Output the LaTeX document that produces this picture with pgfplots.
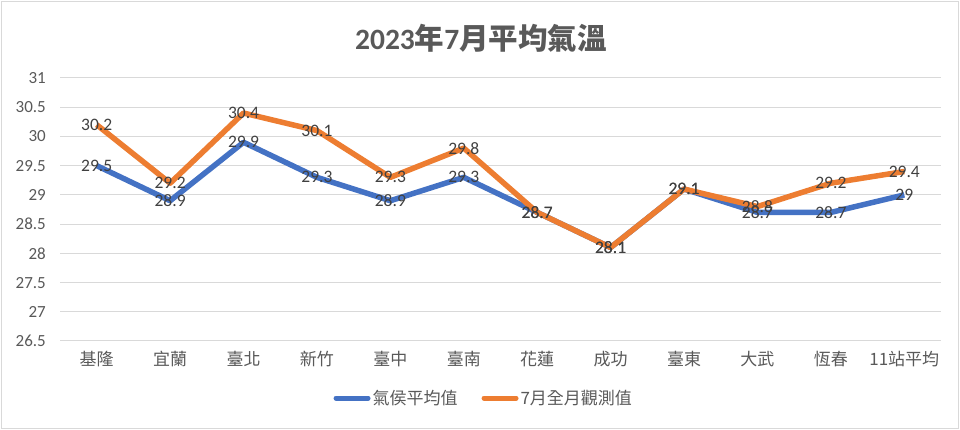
\documentclass[border=0pt]{standalone}
\usepackage{fontspec}
\setmainfont{Carlito}
\newfontfamily\cjk{Noto Sans CJK TC}
\usepackage{pgfplots}
\pgfplotsset{compat=1.18}
\definecolor{cblue}{HTML}{4472C4}
\definecolor{corange}{HTML}{ED7D31}
\definecolor{tgray}{HTML}{595959}
\definecolor{lgray}{HTML}{404040}
\definecolor{ggray}{HTML}{D9D9D9}
\begin{document}
\begin{tikzpicture}[x=1pt,y=1pt]
\draw[ggray, line width=1.2pt] (1.5,1.5) rectangle (958.5,428.5);
\path (0,0) rectangle (960,430);
\node[font=\fontsize{29.5}{33}\selectfont\bfseries, text=tgray] at (481,392) {2023{\cjk\bfseries 年}7{\cjk\bfseries 月平均氣溫}};
\begin{axis}[
  at={(60pt,89pt)}, anchor=south west, scale only axis,
  width=881pt, height=263pt,
  xmin=-0.5, xmax=11.5, ymin=26.5, ymax=31,
  ytick={26.5,27,27.5,28,28.5,29,29.5,30,30.5,31},
  xtick={0,1,2,3,4,5,6,7,8,9,10,11},
  xticklabels={基隆,宜蘭,臺北,新竹,臺中,臺南,花蓮,成功,臺東,大武,恆春,11站平均},
  /pgf/number format/assume math mode=true,
  axis line style={draw=none},
  major tick style={draw=none},
  ymajorgrids, grid style={ggray, line width=1pt},
  yticklabel style={font=\fontsize{17}{20}\selectfont, text=tgray, inner sep=0pt, anchor=east, xshift=-14pt},
  xticklabel style={font=\cjk\fontsize{17}{20}\selectfont, text=tgray, inner sep=0pt, anchor=north, yshift=-10pt},
  clip=false,
  nodes near coords,
  nodes near coords style={font=\fontsize{17.5}{20}\selectfont, text=lgray, anchor=center, inner sep=0pt},
  legend columns=2,
  legend style={at={(0.481,-0.217)}, anchor=center, draw=none, fill=none,
    font=\cjk\fontsize{17}{20}\selectfont, text=tgray,
    /tikz/every even column/.append style={column sep=22pt}},
  legend image code/.code={\draw[#1, line width=5pt, line cap=round] (0pt,0pt) -- (32pt,0pt);},
]
\addplot[cblue, line width=5.5pt, line join=round, mark=none] coordinates {
(0,29.5) (1,28.9) (2,29.9) (3,29.3) (4,28.9) (5,29.3) (6,28.7) (7,28.1) (8,29.1) (9,28.7) (10,28.7) (11,29)};
\addlegendentry{氣侯平均值}
\addplot[corange, line width=5.5pt, line join=round, mark=none] coordinates {
(0,30.2) (1,29.2) (2,30.4) (3,30.1) (4,29.3) (5,29.8) (6,28.7) (7,28.1) (8,29.1) (9,28.8) (10,29.2) (11,29.4)};
\addlegendentry{7月全月觀測值}
\end{axis}
\end{tikzpicture}
\end{document}
